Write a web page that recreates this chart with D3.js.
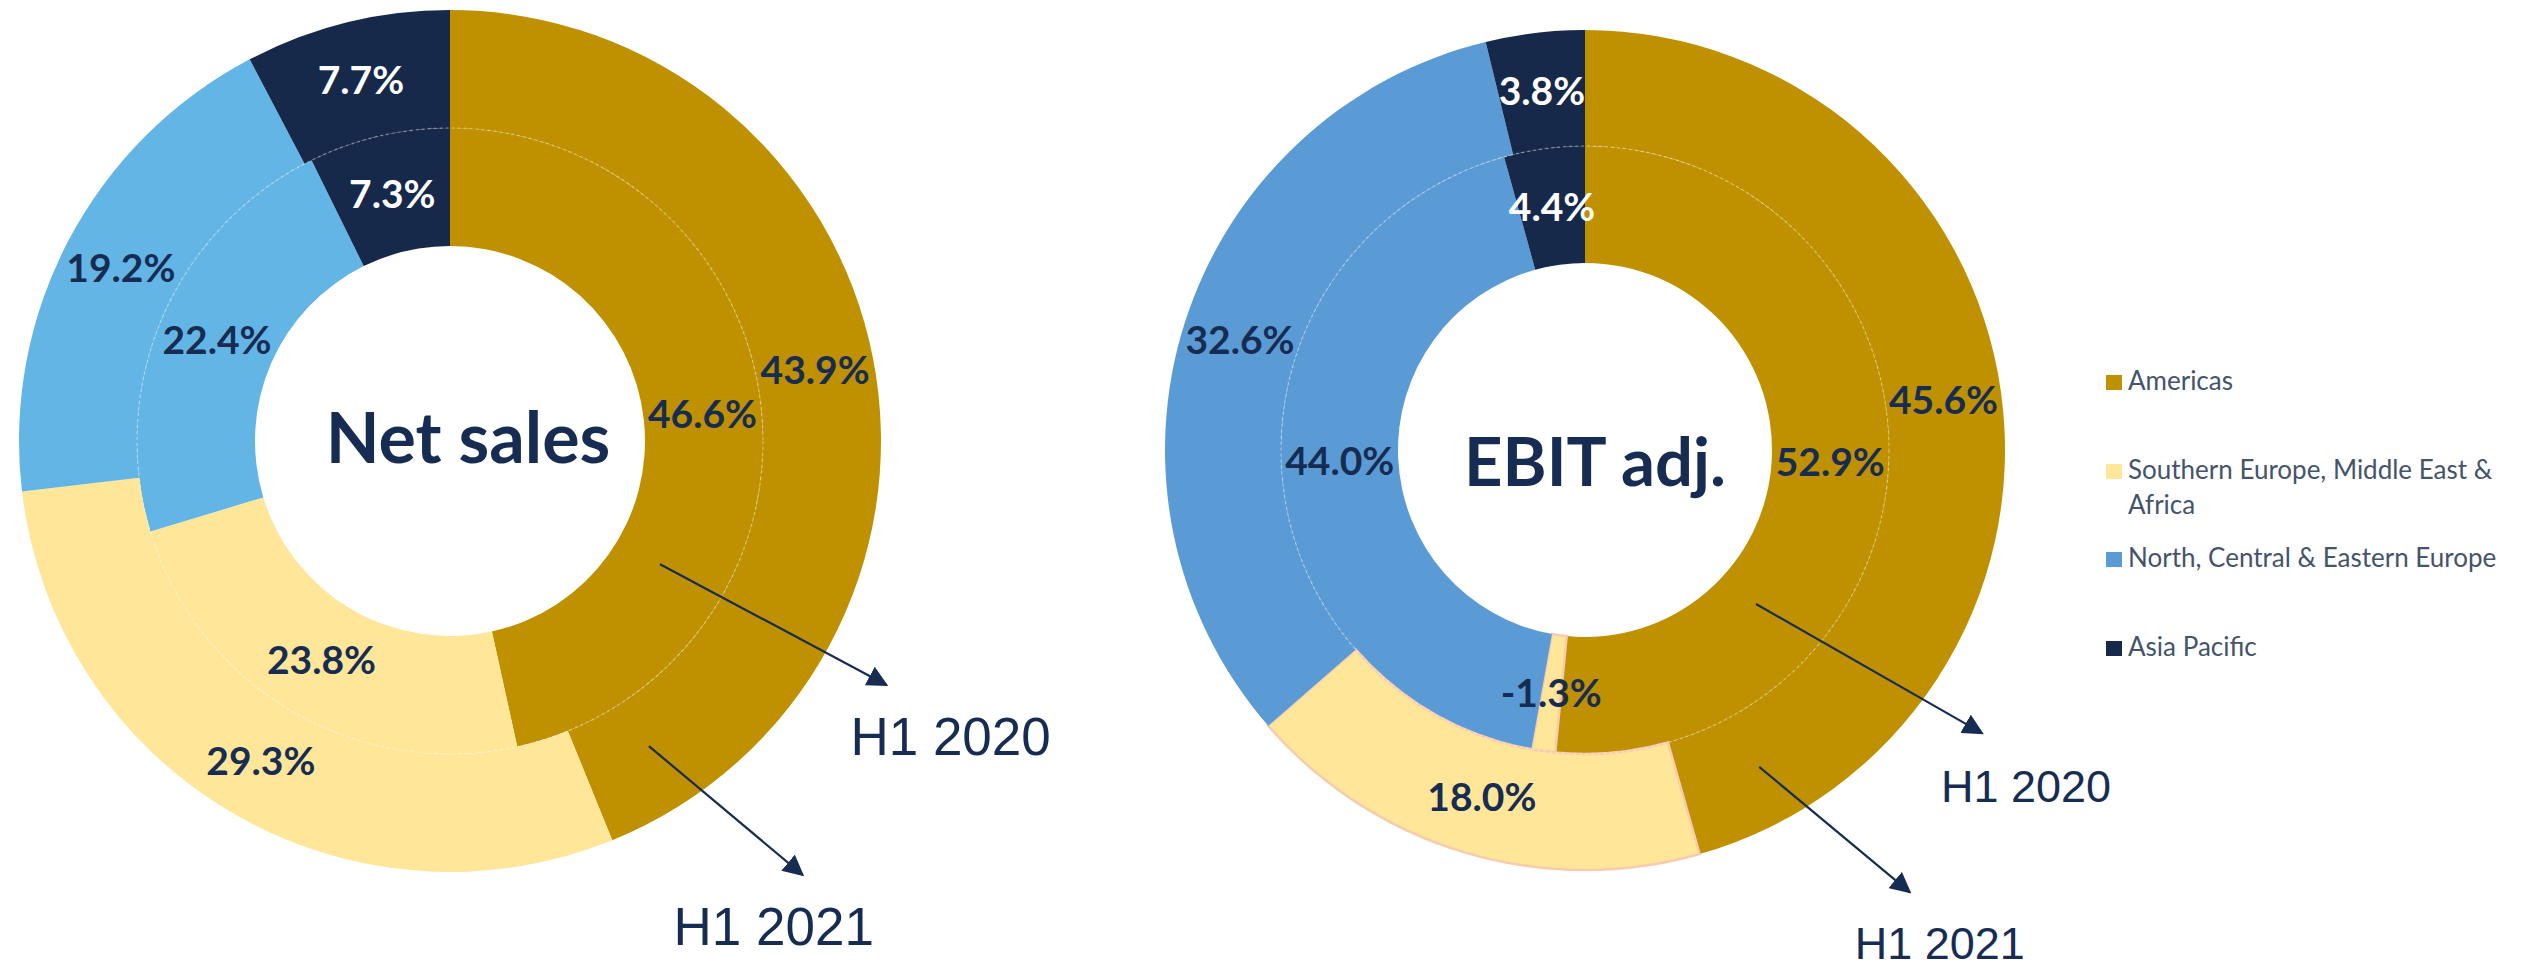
<!DOCTYPE html>
<html>
<head>
<meta charset="utf-8">
<script src="https://cdn.jsdelivr.net/npm/d3@7"></script>
<style>
  html, body { margin: 0; padding: 0; background: #ffffff; }
  svg { display: block; }
</style>
</head>
<body>
<svg id="chart" width="2526" height="974"></svg>
<script>
// regions, clockwise from 12 o'clock
var regions = ["Americas", "Southern Europe, Middle East & Africa", "North, Central & Eastern Europe", "Asia Pacific"];
var legendLines = [["Americas"], ["Southern Europe, Middle East &", "Africa"], ["North, Central & Eastern Europe"], ["Asia Pacific"]];

// Net sales share, %
var salesH12020 = [46.6, 23.8, 22.4, 7.3];
var salesH12021 = [43.9, 29.3, 19.2, 7.7];
// EBIT adj. share, %
var ebitH12020 = [52.9, -1.3, 44.0, 4.4];
var ebitH12021 = [45.6, 18.0, 32.6, 3.8];

var periods = ["H1 2020", "H1 2021"];

var colorsSales = ["#BF9000", "#FFE699", "#63B5E5", "#16294B"];
var colorsEbit  = ["#BF9000", "#FFE699", "#5B9BD5", "#16294B"];
var navy = "#172c52";

var svg = d3.select("#chart");

var pie = d3.pie().sort(null).value(function(d) { return Math.abs(d); });

function fmt(v) { return v.toFixed(1) + "%"; }

function polar(deg, r) {
  var a = deg * Math.PI / 180;
  return [r * Math.sin(a), -r * Math.cos(a)];
}

function donut(opt) {
  var g = svg.append("g").attr("transform", "translate(" + opt.cx + "," + opt.cy + ")");
  var rings = [
    { data: opt.inner, r0: opt.hole, r1: opt.mid },
    { data: opt.outer, r0: opt.mid, r1: opt.R }
  ];

  rings.forEach(function(ring) {
    var arc = d3.arc().innerRadius(ring.r0).outerRadius(ring.r1);
    var rm = (ring.r0 + ring.r1) / 2;
    ring.lab = d3.arc().innerRadius(rm).outerRadius(rm);
    ring.arcs = pie(ring.data);

    g.selectAll(null).data(ring.arcs).enter().append("path")
      .attr("d", arc)
      .attr("fill", function(d, i) { return opt.colors[i]; })
      .attr("stroke", function(d, i) { return (opt.edge && i == 1) ? "#F8CBAD" : "none"; })
      .attr("stroke-width", 2.5);
  });

  // faint dashed circle between the rings
  g.append("circle")
    .attr("r", opt.mid)
    .attr("fill", "none")
    .attr("stroke", "#ffffff")
    .attr("stroke-opacity", 0.3)
    .attr("stroke-width", 1.5)
    .attr("stroke-dasharray", "3,3");

  rings.forEach(function(ring) {
    g.selectAll(null).data(ring.arcs).enter().append("text")
      .attr("transform", function(d) { return "translate(" + ring.lab.centroid(d) + ")"; })
      .attr("text-anchor", "middle")
      .attr("dy", "0.36em")
      .style("font-family", "Lato, 'Open Sans', sans-serif")
      .style("font-weight", 700)
      .style("font-size", "39px")
      .attr("fill", function(d, i) { return i == 3 ? "#ffffff" : navy; })
      .text(function(d) { return fmt(d.data); });
  });

  // title in the hole
  g.append("text")
    .attr("x", opt.titleDx)
    .attr("y", opt.titleDy)
    .attr("text-anchor", "middle")
    .style("font-family", "Lato, 'Open Sans', sans-serif")
    .style("font-weight", 700)
    .style("font-size", opt.titleSize + "px")
    .attr("fill", navy)
    .text(opt.title);

  // period call-outs (angle in degrees from 12 o'clock, radius as share of R)
  opt.callouts.forEach(function(c, i) {
    var p0 = polar(c.a0, c.r0 * opt.R), p1 = polar(c.a1, c.r1 * opt.R);
    g.append("line")
      .attr("x1", p0[0]).attr("y1", p0[1])
      .attr("x2", p1[0]).attr("y2", p1[1])
      .attr("stroke", navy)
      .attr("stroke-width", 2.2)
      .attr("marker-end", "url(#arrow)");
    g.append("text")
      .attr("x", p1[0] + c.tx)
      .attr("y", p1[1] + c.ty)
      .style("font-family", "'Liberation Sans', Arial, sans-serif")
      .style("font-size", opt.calloutSize + "px")
      .attr("fill", navy)
      .text(periods[i]);
  });
}

svg.append("defs").append("marker")
  .attr("id", "arrow")
  .attr("viewBox", "0 0 10 10")
  .attr("refX", 9).attr("refY", 5)
  .attr("markerWidth", 21).attr("markerHeight", 21)
  .attr("markerUnits", "userSpaceOnUse")
  .attr("orient", "auto")
  .append("path")
  .attr("d", "M0,0 L10,5 L0,10 z")
  .attr("fill", navy);

donut({
  cx: 450, cy: 441, R: 431, mid: 313, hole: 195,
  inner: salesH12020, outer: salesH12021, colors: colorsSales, edge: false,
  title: "Net sales", titleSize: 70, titleDx: 18, titleDy: 22,
  calloutSize: 53,
  callouts: [
    { a0: 120.4, r0: 0.565, a1: 119.2, r1: 1.16, tx: -36, ty: 70 },
    { a0: 146.9, r0: 0.845, a1: 140.9, r1: 1.297, tx: -129, ty: 70 }
  ]
});

donut({
  cx: 1585, cy: 450, R: 420, mid: 304, hole: 187,
  inner: ebitH12020, outer: ebitH12021, colors: colorsEbit, edge: true,
  title: "EBIT adj.", titleSize: 67, titleDx: 10, titleDy: 36,
  calloutSize: 45,
  callouts: [
    { a0: 132.0, r0: 0.548, a1: 125.5, r1: 1.161, tx: -41, ty: 69 },
    { a0: 151.2, r0: 0.861, a1: 143.7, r1: 1.306, tx: -55, ty: 67 }
  ]
});

// legend
var legend = svg.append("g").attr("transform", "translate(2106,375)");
var legendY = [0, 89, 177, 266];
legendLines.forEach(function(lines, i) {
  var row = legend.append("g").attr("transform", "translate(0," + legendY[i] + ")");
  row.append("rect")
    .attr("width", 16).attr("height", 15)
    .attr("fill", colorsEbit[i]);
  lines.forEach(function(t, j) {
    row.append("text")
      .attr("x", 22)
      .attr("y", 15 + j * 35)
      .style("font-family", "Lato, 'Open Sans', sans-serif")
      .style("font-size", "26px")
      .attr("fill", "#44546A")
      .text(t);
  });
});
</script>
</body>
</html>
